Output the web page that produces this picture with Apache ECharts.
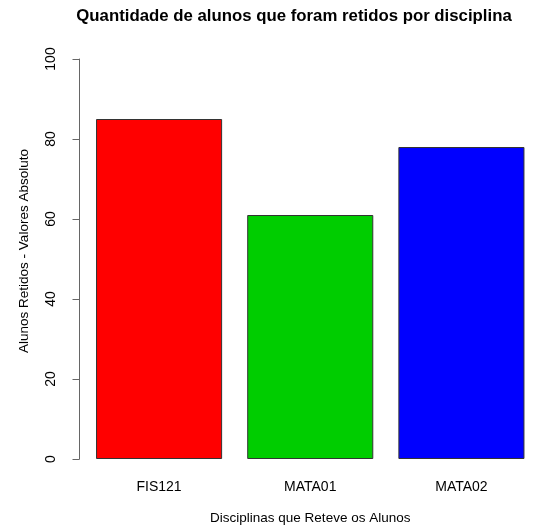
<!DOCTYPE html>
<html>
<head>
<meta charset="utf-8">
<script src="https://cdn.jsdelivr.net/npm/echarts@6/dist/echarts.min.js"></script>
<style>html,body{margin:0;padding:0;background:#fff}#c{width:542px;height:530px}</style>
</head>
<body>
<div id="c"></div>
<script>
var categories = ['FIS121', 'MATA01', 'MATA02'];
var values = [85, 61, 78];
var barColors = ['#FF0000', '#00CD00', '#0000FF'];
var yTicks = [0, 20, 40, 60, 80, 100];
var titleText = 'Quantidade de alunos que foram retidos por disciplina';
var xName = 'Disciplinas que Reteve os Alunos';
var yName = 'Alunos Retidos - Valores Absoluto';

var chart = echarts.init(document.getElementById('c'), null, {renderer: 'canvas'});
chart.setOption({
  animation: false,
  backgroundColor: '#fff',
  title: {
    text: titleText,
    left: 289, top: 3, textAlign: 'center',
    textStyle: {fontFamily: 'Liberation Sans', fontWeight: 'bold', fontSize: 16.8, color: '#000'}
  },
  grid: {left: 83.5, right: 5, top: 59, bottom: 70, containLabel: false},
  xAxis: {
    type: 'category',
    data: categories,
    name: xName,
    nameLocation: 'middle',
    nameGap: 52,
    nameTextStyle: {fontFamily: 'Liberation Sans', fontSize: 13.5, color: '#000'},
    axisLine: {show: false},
    axisTick: {show: false},
    axisLabel: {fontFamily: 'Liberation Sans', fontSize: 14, color: '#000', margin: 21}
  },
  yAxis: {
    type: 'value',
    min: yTicks[0], max: yTicks[yTicks.length - 1], interval: 20,
    offset: 4,
    name: yName,
    nameLocation: 'middle',
    nameGap: 48,
    nameRotate: 90,
    nameTextStyle: {fontFamily: 'Liberation Sans', fontSize: 13.5, color: '#000', padding: [0, 0, 0, 16]},
    axisLine: {show: true, lineStyle: {color: '#666', width: 1}},
    axisTick: {show: true, length: 7, lineStyle: {color: '#666'}},
    axisLabel: {rotate: 90, fontFamily: 'Liberation Sans', fontSize: 14, color: '#000', margin: 21},
    splitLine: {show: false}
  },
  series: [{
    type: 'bar',
    barCategoryGap: '16.6%',
    data: values.map(function (v, i) {
      return {value: v, itemStyle: {color: barColors[i]}};
    }),
    itemStyle: {borderColor: '#333', borderWidth: 1}
  }]
});
</script>
</body>
</html>
